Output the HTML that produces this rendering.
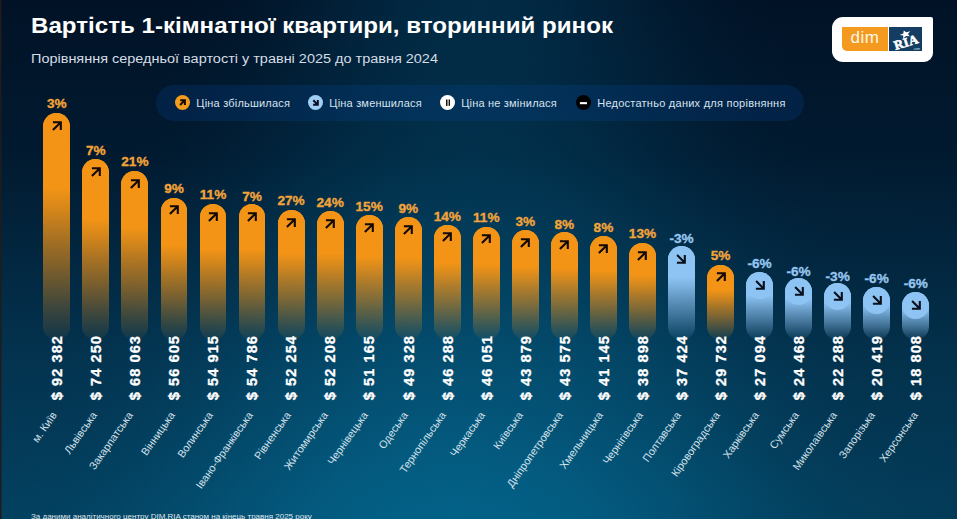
<!DOCTYPE html>
<html><head><meta charset="utf-8">
<style>
*{margin:0;padding:0;box-sizing:border-box}
html,body{width:957px;height:519px;overflow:hidden}
body{position:relative;font-family:"Liberation Sans",sans-serif;
background:linear-gradient(to bottom,#011226 0%,#011a30 30%,#02223a 42%,#03334f 69%,#033f5e 96%,#03405f 100%);}
.gl{position:absolute;left:0;width:957px}
.rdark{position:absolute;left:0;top:0;width:957px;height:519px;background:radial-gradient(ellipse 300px 420px at 100% 100%,rgba(0,0,0,0.075),rgba(0,0,0,0) 100%)}
.edge{position:absolute;left:0;top:0;width:1px;height:519px;background:#201c1c}
.edge2{position:absolute;left:1px;top:0;width:1px;height:519px;background:rgba(32,28,28,0.5)}
.t{position:absolute;white-space:nowrap;transform-origin:0 0}
h1.t{left:31px;top:13.5px;font-size:21.5px;font-weight:bold;color:#fff;line-height:25px;transform:scaleX(1.122)}
.sub{left:31px;top:52px;font-size:12.5px;color:#d5dde6;line-height:14px;transform:scaleX(1.157)}
.logo{position:absolute;left:832px;top:17px;width:101px;height:44.5px;background:#fff;border-radius:11px 2px 9px 11px}
.logo .o{position:absolute;left:10px;top:10px;width:45.8px;height:24.4px;background:#f39a1f;border-radius:0 0 0 5px;color:#fff8e6;font-size:17px;line-height:22px;text-align:center;letter-spacing:0.4px}
.logo .b{position:absolute;left:57px;top:10px;width:33px;height:24.4px;background:#143d63}
.logo .b svg{position:absolute;left:0;top:0}
.legend{position:absolute;left:156px;top:85px;width:648px;height:36px;border-radius:18px;background:rgba(10,75,160,0.22)}
.li{position:absolute;top:94.9px;width:15px;height:15px;border-radius:50%}
.li svg{display:block}
.lt{top:96.5px;font-size:11px;color:#d8e2ee;line-height:12px;letter-spacing:0.2px}
.bar{position:absolute;width:26.9px;border-radius:13.45px}
.cap{position:absolute;width:26.9px;height:26.9px;border-radius:50%;display:flex;align-items:center;justify-content:center}
.cap svg{display:block;margin-top:-1px}
.pct{position:absolute;width:60px;text-align:center;font-size:13.6px;font-weight:bold;line-height:14px;white-space:nowrap;-webkit-text-stroke:0.35px currentColor}
.price{position:absolute;font-size:14.6px;font-weight:bold;color:#fff;letter-spacing:1.05px;-webkit-text-stroke:0.3px #fff;white-space:nowrap;line-height:14px;transform-origin:0 0;transform:rotate(-90deg) translate(-100%,-50%)}
.city{position:absolute;font-size:10.75px;color:#d4e0ea;white-space:nowrap;line-height:10px;transform-origin:100% 0;transform:translate(-100%,0) rotate(-55deg)}
.foot{left:31px;top:512px;font-size:8px;color:#dfe6ee;line-height:9px}
</style></head><body>
<div class="gl" style="top:0px;height:8px;background:linear-gradient(to right,rgba(2,58,88,0.000) 179px,rgba(2,58,88,0.023) 216px,rgba(2,58,88,0.088) 254px,rgba(2,58,88,0.185) 292px,rgba(2,58,88,0.300) 329px,rgba(2,58,88,0.415) 367px,rgba(2,58,88,0.512) 404px,rgba(2,58,88,0.577) 442px,rgba(2,58,88,0.600) 480px,rgba(2,58,88,0.577) 517px,rgba(2,58,88,0.512) 555px,rgba(2,58,88,0.415) 593px,rgba(2,58,88,0.300) 630px,rgba(2,58,88,0.185) 668px,rgba(2,58,88,0.088) 706px,rgba(2,58,88,0.023) 743px,rgba(2,58,88,0.000) 781px)"></div>
<div class="gl" style="top:8px;height:8px;background:linear-gradient(to right,rgba(2,58,88,0.000) 176px,rgba(2,58,88,0.023) 214px,rgba(2,58,88,0.088) 252px,rgba(2,58,88,0.185) 290px,rgba(2,58,88,0.300) 328px,rgba(2,58,88,0.415) 366px,rgba(2,58,88,0.512) 403px,rgba(2,58,88,0.577) 441px,rgba(2,58,88,0.600) 479px,rgba(2,58,88,0.577) 517px,rgba(2,58,88,0.512) 555px,rgba(2,58,88,0.415) 593px,rgba(2,58,88,0.300) 631px,rgba(2,58,88,0.185) 669px,rgba(2,58,88,0.088) 707px,rgba(2,58,88,0.023) 745px,rgba(2,58,88,0.000) 783px)"></div>
<div class="gl" style="top:16px;height:8px;background:linear-gradient(to right,rgba(2,59,89,0.000) 173px,rgba(2,59,89,0.023) 211px,rgba(2,59,89,0.088) 249px,rgba(2,59,89,0.185) 288px,rgba(2,59,89,0.300) 326px,rgba(2,59,89,0.415) 364px,rgba(2,59,89,0.512) 402px,rgba(2,59,89,0.577) 441px,rgba(2,59,89,0.600) 479px,rgba(2,59,89,0.577) 517px,rgba(2,59,89,0.512) 556px,rgba(2,59,89,0.415) 594px,rgba(2,59,89,0.300) 632px,rgba(2,59,89,0.185) 670px,rgba(2,59,89,0.088) 709px,rgba(2,59,89,0.023) 747px,rgba(2,59,89,0.000) 785px)"></div>
<div class="gl" style="top:24px;height:8px;background:linear-gradient(to right,rgba(2,59,89,0.000) 170px,rgba(2,59,89,0.023) 209px,rgba(2,59,89,0.088) 247px,rgba(2,59,89,0.185) 286px,rgba(2,59,89,0.300) 324px,rgba(2,59,89,0.415) 363px,rgba(2,59,89,0.512) 401px,rgba(2,59,89,0.577) 440px,rgba(2,59,89,0.600) 479px,rgba(2,59,89,0.577) 517px,rgba(2,59,89,0.512) 556px,rgba(2,59,89,0.415) 594px,rgba(2,59,89,0.300) 633px,rgba(2,59,89,0.185) 672px,rgba(2,59,89,0.088) 710px,rgba(2,59,89,0.023) 749px,rgba(2,59,89,0.000) 787px)"></div>
<div class="gl" style="top:32px;height:8px;background:linear-gradient(to right,rgba(2,59,89,0.000) 167px,rgba(2,59,89,0.023) 206px,rgba(2,59,89,0.088) 245px,rgba(2,59,89,0.185) 284px,rgba(2,59,89,0.300) 323px,rgba(2,59,89,0.415) 362px,rgba(2,59,89,0.512) 400px,rgba(2,59,89,0.577) 439px,rgba(2,59,89,0.600) 478px,rgba(2,59,89,0.577) 517px,rgba(2,59,89,0.512) 556px,rgba(2,59,89,0.415) 595px,rgba(2,59,89,0.300) 634px,rgba(2,59,89,0.185) 673px,rgba(2,59,89,0.088) 712px,rgba(2,59,89,0.023) 750px,rgba(2,59,89,0.000) 789px)"></div>
<div class="gl" style="top:40px;height:8px;background:linear-gradient(to right,rgba(2,59,89,0.000) 164px,rgba(2,59,89,0.023) 204px,rgba(2,59,89,0.088) 243px,rgba(2,59,89,0.185) 282px,rgba(2,59,89,0.300) 321px,rgba(2,59,89,0.415) 360px,rgba(2,59,89,0.512) 399px,rgba(2,59,89,0.577) 439px,rgba(2,59,89,0.600) 478px,rgba(2,59,89,0.577) 517px,rgba(2,59,89,0.512) 556px,rgba(2,59,89,0.415) 595px,rgba(2,59,89,0.300) 635px,rgba(2,59,89,0.185) 674px,rgba(2,59,89,0.088) 713px,rgba(2,59,89,0.023) 752px,rgba(2,59,89,0.000) 791px)"></div>
<div class="gl" style="top:48px;height:8px;background:linear-gradient(to right,rgba(2,59,89,0.000) 161px,rgba(2,59,89,0.023) 201px,rgba(2,59,89,0.088) 240px,rgba(2,59,89,0.185) 280px,rgba(2,59,89,0.300) 319px,rgba(2,59,89,0.415) 359px,rgba(2,59,89,0.512) 398px,rgba(2,59,89,0.577) 438px,rgba(2,59,89,0.600) 477px,rgba(2,59,89,0.577) 517px,rgba(2,59,89,0.512) 557px,rgba(2,59,89,0.415) 596px,rgba(2,59,89,0.300) 636px,rgba(2,59,89,0.185) 675px,rgba(2,59,89,0.088) 715px,rgba(2,59,89,0.023) 754px,rgba(2,59,89,0.000) 794px)"></div>
<div class="gl" style="top:56px;height:8px;background:linear-gradient(to right,rgba(2,59,89,0.000) 159px,rgba(2,59,89,0.023) 198px,rgba(2,59,89,0.088) 238px,rgba(2,59,89,0.185) 278px,rgba(2,59,89,0.300) 318px,rgba(2,59,89,0.415) 358px,rgba(2,59,89,0.512) 397px,rgba(2,59,89,0.577) 437px,rgba(2,59,89,0.600) 477px,rgba(2,59,89,0.577) 517px,rgba(2,59,89,0.512) 557px,rgba(2,59,89,0.415) 597px,rgba(2,59,89,0.300) 636px,rgba(2,59,89,0.185) 676px,rgba(2,59,89,0.088) 716px,rgba(2,59,89,0.023) 756px,rgba(2,59,89,0.000) 796px)"></div>
<div class="gl" style="top:64px;height:8px;background:linear-gradient(to right,rgba(2,58,88,0.000) 156px,rgba(2,58,88,0.023) 196px,rgba(2,58,88,0.088) 236px,rgba(2,58,88,0.185) 276px,rgba(2,58,88,0.300) 316px,rgba(2,58,88,0.415) 356px,rgba(2,58,88,0.512) 396px,rgba(2,58,88,0.577) 437px,rgba(2,58,88,0.600) 477px,rgba(2,58,88,0.577) 517px,rgba(2,58,88,0.512) 557px,rgba(2,58,88,0.415) 597px,rgba(2,58,88,0.300) 637px,rgba(2,58,88,0.185) 677px,rgba(2,58,88,0.088) 717px,rgba(2,58,88,0.023) 758px,rgba(2,58,88,0.000) 798px)"></div>
<div class="gl" style="top:72px;height:8px;background:linear-gradient(to right,rgba(2,58,88,0.000) 153px,rgba(2,58,88,0.023) 193px,rgba(2,58,88,0.088) 234px,rgba(2,58,88,0.185) 274px,rgba(2,58,88,0.300) 315px,rgba(2,58,88,0.415) 355px,rgba(2,58,88,0.512) 395px,rgba(2,58,88,0.577) 436px,rgba(2,58,88,0.600) 476px,rgba(2,58,88,0.577) 517px,rgba(2,58,88,0.512) 557px,rgba(2,58,88,0.415) 598px,rgba(2,58,88,0.300) 638px,rgba(2,58,88,0.185) 678px,rgba(2,58,88,0.088) 719px,rgba(2,58,88,0.023) 759px,rgba(2,58,88,0.000) 800px)"></div>
<div class="gl" style="top:80px;height:8px;background:linear-gradient(to right,rgba(2,59,89,0.000) 150px,rgba(2,59,89,0.023) 191px,rgba(2,59,89,0.088) 232px,rgba(2,59,89,0.185) 272px,rgba(2,59,89,0.300) 313px,rgba(2,59,89,0.415) 354px,rgba(2,59,89,0.512) 394px,rgba(2,59,89,0.577) 435px,rgba(2,59,89,0.600) 476px,rgba(2,59,89,0.577) 517px,rgba(2,59,89,0.512) 557px,rgba(2,59,89,0.415) 598px,rgba(2,59,89,0.300) 639px,rgba(2,59,89,0.185) 680px,rgba(2,59,89,0.088) 720px,rgba(2,59,89,0.023) 761px,rgba(2,59,89,0.000) 802px)"></div>
<div class="gl" style="top:88px;height:8px;background:linear-gradient(to right,rgba(2,59,89,0.000) 147px,rgba(2,59,89,0.023) 188px,rgba(2,59,89,0.088) 229px,rgba(2,59,89,0.185) 270px,rgba(2,59,89,0.300) 311px,rgba(2,59,89,0.415) 352px,rgba(2,59,89,0.512) 393px,rgba(2,59,89,0.577) 435px,rgba(2,59,89,0.600) 476px,rgba(2,59,89,0.577) 517px,rgba(2,59,89,0.512) 558px,rgba(2,59,89,0.415) 599px,rgba(2,59,89,0.300) 640px,rgba(2,59,89,0.185) 681px,rgba(2,59,89,0.088) 722px,rgba(2,59,89,0.023) 763px,rgba(2,59,89,0.000) 804px)"></div>
<div class="gl" style="top:96px;height:8px;background:linear-gradient(to right,rgba(2,60,90,0.000) 144px,rgba(2,60,90,0.023) 186px,rgba(2,60,90,0.088) 227px,rgba(2,60,90,0.185) 268px,rgba(2,60,90,0.300) 310px,rgba(2,60,90,0.415) 351px,rgba(2,60,90,0.512) 392px,rgba(2,60,90,0.577) 434px,rgba(2,60,90,0.600) 475px,rgba(2,60,90,0.577) 517px,rgba(2,60,90,0.512) 558px,rgba(2,60,90,0.415) 599px,rgba(2,60,90,0.300) 641px,rgba(2,60,90,0.185) 682px,rgba(2,60,90,0.088) 723px,rgba(2,60,90,0.023) 765px,rgba(2,60,90,0.000) 806px)"></div>
<div class="gl" style="top:104px;height:8px;background:linear-gradient(to right,rgba(2,60,91,0.000) 142px,rgba(2,60,91,0.023) 183px,rgba(2,60,91,0.088) 225px,rgba(2,60,91,0.185) 266px,rgba(2,60,91,0.300) 308px,rgba(2,60,91,0.415) 350px,rgba(2,60,91,0.512) 391px,rgba(2,60,91,0.577) 433px,rgba(2,60,91,0.600) 475px,rgba(2,60,91,0.577) 516px,rgba(2,60,91,0.512) 558px,rgba(2,60,91,0.415) 600px,rgba(2,60,91,0.300) 641px,rgba(2,60,91,0.185) 683px,rgba(2,60,91,0.088) 725px,rgba(2,60,91,0.023) 766px,rgba(2,60,91,0.000) 808px)"></div>
<div class="gl" style="top:112px;height:8px;background:linear-gradient(to right,rgba(2,61,91,0.000) 139px,rgba(2,61,91,0.023) 181px,rgba(2,61,91,0.088) 223px,rgba(2,61,91,0.185) 265px,rgba(2,61,91,0.300) 307px,rgba(2,61,91,0.415) 349px,rgba(2,61,91,0.512) 390px,rgba(2,61,91,0.577) 432px,rgba(2,61,91,0.600) 474px,rgba(2,61,91,0.577) 516px,rgba(2,61,91,0.512) 558px,rgba(2,61,91,0.415) 600px,rgba(2,61,91,0.300) 642px,rgba(2,61,91,0.185) 684px,rgba(2,61,91,0.088) 726px,rgba(2,61,91,0.023) 768px,rgba(2,61,91,0.000) 810px)"></div>
<div class="gl" style="top:120px;height:8px;background:linear-gradient(to right,rgba(2,62,92,0.000) 136px,rgba(2,62,92,0.023) 178px,rgba(2,62,92,0.088) 220px,rgba(2,62,92,0.185) 263px,rgba(2,62,92,0.300) 305px,rgba(2,62,92,0.415) 347px,rgba(2,62,92,0.512) 389px,rgba(2,62,92,0.577) 432px,rgba(2,62,92,0.600) 474px,rgba(2,62,92,0.577) 516px,rgba(2,62,92,0.512) 559px,rgba(2,62,92,0.415) 601px,rgba(2,62,92,0.300) 643px,rgba(2,62,92,0.185) 685px,rgba(2,62,92,0.088) 728px,rgba(2,62,92,0.023) 770px,rgba(2,62,92,0.000) 812px)"></div>
<div class="gl" style="top:128px;height:8px;background:linear-gradient(to right,rgba(2,62,93,0.000) 133px,rgba(2,62,93,0.023) 176px,rgba(2,62,93,0.088) 218px,rgba(2,62,93,0.185) 261px,rgba(2,62,93,0.300) 303px,rgba(2,62,93,0.415) 346px,rgba(2,62,93,0.512) 388px,rgba(2,62,93,0.577) 431px,rgba(2,62,93,0.600) 474px,rgba(2,62,93,0.577) 516px,rgba(2,62,93,0.512) 559px,rgba(2,62,93,0.415) 601px,rgba(2,62,93,0.300) 644px,rgba(2,62,93,0.185) 687px,rgba(2,62,93,0.088) 729px,rgba(2,62,93,0.023) 772px,rgba(2,62,93,0.000) 814px)"></div>
<div class="gl" style="top:136px;height:8px;background:linear-gradient(to right,rgba(2,63,94,0.000) 130px,rgba(2,63,94,0.023) 173px,rgba(2,63,94,0.088) 216px,rgba(2,63,94,0.185) 259px,rgba(2,63,94,0.300) 302px,rgba(2,63,94,0.415) 345px,rgba(2,63,94,0.512) 387px,rgba(2,63,94,0.577) 430px,rgba(2,63,94,0.600) 473px,rgba(2,63,94,0.577) 516px,rgba(2,63,94,0.512) 559px,rgba(2,63,94,0.415) 602px,rgba(2,63,94,0.300) 645px,rgba(2,63,94,0.185) 688px,rgba(2,63,94,0.088) 731px,rgba(2,63,94,0.023) 774px,rgba(2,63,94,0.000) 816px)"></div>
<div class="gl" style="top:144px;height:8px;background:linear-gradient(to right,rgba(2,63,94,0.000) 127px,rgba(2,63,94,0.023) 170px,rgba(2,63,94,0.088) 214px,rgba(2,63,94,0.185) 257px,rgba(2,63,94,0.300) 300px,rgba(2,63,94,0.415) 343px,rgba(2,63,94,0.512) 386px,rgba(2,63,94,0.577) 430px,rgba(2,63,94,0.600) 473px,rgba(2,63,94,0.577) 516px,rgba(2,63,94,0.512) 559px,rgba(2,63,94,0.415) 602px,rgba(2,63,94,0.300) 646px,rgba(2,63,94,0.185) 689px,rgba(2,63,94,0.088) 732px,rgba(2,63,94,0.023) 775px,rgba(2,63,94,0.000) 818px)"></div>
<div class="gl" style="top:152px;height:8px;background:linear-gradient(to right,rgba(2,64,95,0.000) 124px,rgba(2,64,95,0.023) 168px,rgba(2,64,95,0.088) 211px,rgba(2,64,95,0.185) 255px,rgba(2,64,95,0.300) 298px,rgba(2,64,95,0.415) 342px,rgba(2,64,95,0.512) 385px,rgba(2,64,95,0.577) 429px,rgba(2,64,95,0.600) 472px,rgba(2,64,95,0.577) 516px,rgba(2,64,95,0.512) 560px,rgba(2,64,95,0.415) 603px,rgba(2,64,95,0.300) 647px,rgba(2,64,95,0.185) 690px,rgba(2,64,95,0.088) 734px,rgba(2,64,95,0.023) 777px,rgba(2,64,95,0.000) 821px)"></div>
<div class="gl" style="top:160px;height:8px;background:linear-gradient(to right,rgba(2,65,96,0.000) 122px,rgba(2,65,96,0.023) 165px,rgba(2,65,96,0.088) 209px,rgba(2,65,96,0.185) 253px,rgba(2,65,96,0.300) 297px,rgba(2,65,96,0.415) 341px,rgba(2,65,96,0.512) 384px,rgba(2,65,96,0.577) 428px,rgba(2,65,96,0.600) 472px,rgba(2,65,96,0.577) 516px,rgba(2,65,96,0.512) 560px,rgba(2,65,96,0.415) 604px,rgba(2,65,96,0.300) 647px,rgba(2,65,96,0.185) 691px,rgba(2,65,96,0.088) 735px,rgba(2,65,96,0.023) 779px,rgba(2,65,96,0.000) 823px)"></div>
<div class="gl" style="top:168px;height:8px;background:linear-gradient(to right,rgba(2,66,98,0.000) 119px,rgba(2,66,98,0.023) 163px,rgba(2,66,98,0.088) 207px,rgba(2,66,98,0.185) 251px,rgba(2,66,98,0.300) 295px,rgba(2,66,98,0.415) 339px,rgba(2,66,98,0.512) 383px,rgba(2,66,98,0.577) 428px,rgba(2,66,98,0.600) 472px,rgba(2,66,98,0.577) 516px,rgba(2,66,98,0.512) 560px,rgba(2,66,98,0.415) 604px,rgba(2,66,98,0.300) 648px,rgba(2,66,98,0.185) 692px,rgba(2,66,98,0.088) 736px,rgba(2,66,98,0.023) 781px,rgba(2,66,98,0.000) 825px)"></div>
<div class="gl" style="top:176px;height:8px;background:linear-gradient(to right,rgba(2,68,99,0.000) 116px,rgba(2,68,99,0.023) 160px,rgba(2,68,99,0.088) 205px,rgba(2,68,99,0.185) 249px,rgba(2,68,99,0.300) 294px,rgba(2,68,99,0.415) 338px,rgba(2,68,99,0.512) 382px,rgba(2,68,99,0.577) 427px,rgba(2,68,99,0.600) 471px,rgba(2,68,99,0.577) 516px,rgba(2,68,99,0.512) 560px,rgba(2,68,99,0.415) 605px,rgba(2,68,99,0.300) 649px,rgba(2,68,99,0.185) 694px,rgba(2,68,99,0.088) 738px,rgba(2,68,99,0.023) 782px,rgba(2,68,99,0.000) 827px)"></div>
<div class="gl" style="top:184px;height:8px;background:linear-gradient(to right,rgba(2,69,101,0.000) 113px,rgba(2,69,101,0.023) 158px,rgba(2,69,101,0.088) 202px,rgba(2,69,101,0.185) 247px,rgba(2,69,101,0.300) 292px,rgba(2,69,101,0.415) 337px,rgba(2,69,101,0.512) 381px,rgba(2,69,101,0.577) 426px,rgba(2,69,101,0.600) 471px,rgba(2,69,101,0.577) 516px,rgba(2,69,101,0.512) 560px,rgba(2,69,101,0.415) 605px,rgba(2,69,101,0.300) 650px,rgba(2,69,101,0.185) 695px,rgba(2,69,101,0.088) 739px,rgba(2,69,101,0.023) 784px,rgba(2,69,101,0.000) 829px)"></div>
<div class="gl" style="top:192px;height:8px;background:linear-gradient(to right,rgba(2,70,102,0.000) 110px,rgba(2,70,102,0.023) 155px,rgba(2,70,102,0.088) 200px,rgba(2,70,102,0.185) 245px,rgba(2,70,102,0.300) 290px,rgba(2,70,102,0.415) 335px,rgba(2,70,102,0.512) 380px,rgba(2,70,102,0.577) 426px,rgba(2,70,102,0.600) 471px,rgba(2,70,102,0.577) 516px,rgba(2,70,102,0.512) 561px,rgba(2,70,102,0.415) 606px,rgba(2,70,102,0.300) 651px,rgba(2,70,102,0.185) 696px,rgba(2,70,102,0.088) 741px,rgba(2,70,102,0.023) 786px,rgba(2,70,102,0.000) 831px)"></div>
<div class="gl" style="top:200px;height:8px;background:linear-gradient(to right,rgba(3,71,104,0.000) 107px,rgba(3,71,104,0.023) 153px,rgba(3,71,104,0.088) 198px,rgba(3,71,104,0.185) 243px,rgba(3,71,104,0.300) 289px,rgba(3,71,104,0.415) 334px,rgba(3,71,104,0.512) 379px,rgba(3,71,104,0.577) 425px,rgba(3,71,104,0.600) 470px,rgba(3,71,104,0.577) 516px,rgba(3,71,104,0.512) 561px,rgba(3,71,104,0.415) 606px,rgba(3,71,104,0.300) 652px,rgba(3,71,104,0.185) 697px,rgba(3,71,104,0.088) 742px,rgba(3,71,104,0.023) 788px,rgba(3,71,104,0.000) 833px)"></div>
<div class="gl" style="top:208px;height:8px;background:linear-gradient(to right,rgba(3,72,105,0.000) 104px,rgba(3,72,105,0.023) 150px,rgba(3,72,105,0.088) 196px,rgba(3,72,105,0.185) 241px,rgba(3,72,105,0.300) 287px,rgba(3,72,105,0.415) 333px,rgba(3,72,105,0.512) 378px,rgba(3,72,105,0.577) 424px,rgba(3,72,105,0.600) 470px,rgba(3,72,105,0.577) 515px,rgba(3,72,105,0.512) 561px,rgba(3,72,105,0.415) 607px,rgba(3,72,105,0.300) 652px,rgba(3,72,105,0.185) 698px,rgba(3,72,105,0.088) 744px,rgba(3,72,105,0.023) 789px,rgba(3,72,105,0.000) 835px)"></div>
<div class="gl" style="top:216px;height:8px;background:linear-gradient(to right,rgba(3,74,107,0.000) 102px,rgba(3,74,107,0.023) 148px,rgba(3,74,107,0.088) 194px,rgba(3,74,107,0.185) 240px,rgba(3,74,107,0.300) 285px,rgba(3,74,107,0.415) 331px,rgba(3,74,107,0.512) 377px,rgba(3,74,107,0.577) 423px,rgba(3,74,107,0.600) 469px,rgba(3,74,107,0.577) 515px,rgba(3,74,107,0.512) 561px,rgba(3,74,107,0.415) 607px,rgba(3,74,107,0.300) 653px,rgba(3,74,107,0.185) 699px,rgba(3,74,107,0.088) 745px,rgba(3,74,107,0.023) 791px,rgba(3,74,107,0.000) 837px)"></div>
<div class="gl" style="top:224px;height:8px;background:linear-gradient(to right,rgba(3,75,108,0.000) 99px,rgba(3,75,108,0.023) 145px,rgba(3,75,108,0.088) 191px,rgba(3,75,108,0.185) 238px,rgba(3,75,108,0.300) 284px,rgba(3,75,108,0.415) 330px,rgba(3,75,108,0.512) 376px,rgba(3,75,108,0.577) 423px,rgba(3,75,108,0.600) 469px,rgba(3,75,108,0.577) 515px,rgba(3,75,108,0.512) 562px,rgba(3,75,108,0.415) 608px,rgba(3,75,108,0.300) 654px,rgba(3,75,108,0.185) 700px,rgba(3,75,108,0.088) 747px,rgba(3,75,108,0.023) 793px,rgba(3,75,108,0.000) 839px)"></div>
<div class="gl" style="top:232px;height:8px;background:linear-gradient(to right,rgba(3,76,109,0.000) 96px,rgba(3,76,109,0.023) 142px,rgba(3,76,109,0.088) 189px,rgba(3,76,109,0.185) 236px,rgba(3,76,109,0.300) 282px,rgba(3,76,109,0.415) 329px,rgba(3,76,109,0.512) 375px,rgba(3,76,109,0.577) 422px,rgba(3,76,109,0.600) 469px,rgba(3,76,109,0.577) 515px,rgba(3,76,109,0.512) 562px,rgba(3,76,109,0.415) 608px,rgba(3,76,109,0.300) 655px,rgba(3,76,109,0.185) 702px,rgba(3,76,109,0.088) 748px,rgba(3,76,109,0.023) 795px,rgba(3,76,109,0.000) 841px)"></div>
<div class="gl" style="top:240px;height:8px;background:linear-gradient(to right,rgba(3,77,111,0.000) 93px,rgba(3,77,111,0.023) 140px,rgba(3,77,111,0.088) 187px,rgba(3,77,111,0.185) 234px,rgba(3,77,111,0.300) 281px,rgba(3,77,111,0.415) 328px,rgba(3,77,111,0.512) 374px,rgba(3,77,111,0.577) 421px,rgba(3,77,111,0.600) 468px,rgba(3,77,111,0.577) 515px,rgba(3,77,111,0.512) 562px,rgba(3,77,111,0.415) 609px,rgba(3,77,111,0.300) 656px,rgba(3,77,111,0.185) 703px,rgba(3,77,111,0.088) 750px,rgba(3,77,111,0.023) 797px,rgba(3,77,111,0.000) 843px)"></div>
<div class="gl" style="top:248px;height:8px;background:linear-gradient(to right,rgba(3,78,112,0.000) 90px,rgba(3,78,112,0.023) 137px,rgba(3,78,112,0.088) 185px,rgba(3,78,112,0.185) 232px,rgba(3,78,112,0.300) 279px,rgba(3,78,112,0.415) 326px,rgba(3,78,112,0.512) 373px,rgba(3,78,112,0.577) 421px,rgba(3,78,112,0.600) 468px,rgba(3,78,112,0.577) 515px,rgba(3,78,112,0.512) 562px,rgba(3,78,112,0.415) 609px,rgba(3,78,112,0.300) 657px,rgba(3,78,112,0.185) 704px,rgba(3,78,112,0.088) 751px,rgba(3,78,112,0.023) 798px,rgba(3,78,112,0.000) 846px)"></div>
<div class="gl" style="top:256px;height:8px;background:linear-gradient(to right,rgba(3,79,114,0.000) 87px,rgba(3,79,114,0.023) 135px,rgba(3,79,114,0.088) 182px,rgba(3,79,114,0.185) 230px,rgba(3,79,114,0.300) 277px,rgba(3,79,114,0.415) 325px,rgba(3,79,114,0.512) 372px,rgba(3,79,114,0.577) 420px,rgba(3,79,114,0.600) 467px,rgba(3,79,114,0.577) 515px,rgba(3,79,114,0.512) 563px,rgba(3,79,114,0.415) 610px,rgba(3,79,114,0.300) 658px,rgba(3,79,114,0.185) 705px,rgba(3,79,114,0.088) 753px,rgba(3,79,114,0.023) 800px,rgba(3,79,114,0.000) 848px)"></div>
<div class="gl" style="top:264px;height:8px;background:linear-gradient(to right,rgba(3,80,115,0.000) 84px,rgba(3,80,115,0.023) 132px,rgba(3,80,115,0.088) 180px,rgba(3,80,115,0.185) 228px,rgba(3,80,115,0.300) 276px,rgba(3,80,115,0.415) 324px,rgba(3,80,115,0.512) 371px,rgba(3,80,115,0.577) 419px,rgba(3,80,115,0.600) 467px,rgba(3,80,115,0.577) 515px,rgba(3,80,115,0.512) 563px,rgba(3,80,115,0.415) 611px,rgba(3,80,115,0.300) 658px,rgba(3,80,115,0.185) 706px,rgba(3,80,115,0.088) 754px,rgba(3,80,115,0.023) 802px,rgba(3,80,115,0.000) 850px)"></div>
<div class="gl" style="top:272px;height:8px;background:linear-gradient(to right,rgba(3,81,116,0.000) 82px,rgba(3,81,116,0.023) 130px,rgba(3,81,116,0.088) 178px,rgba(3,81,116,0.185) 226px,rgba(3,81,116,0.300) 274px,rgba(3,81,116,0.415) 322px,rgba(3,81,116,0.512) 370px,rgba(3,81,116,0.577) 419px,rgba(3,81,116,0.600) 467px,rgba(3,81,116,0.577) 515px,rgba(3,81,116,0.512) 563px,rgba(3,81,116,0.415) 611px,rgba(3,81,116,0.300) 659px,rgba(3,81,116,0.185) 707px,rgba(3,81,116,0.088) 756px,rgba(3,81,116,0.023) 804px,rgba(3,81,116,0.000) 852px)"></div>
<div class="gl" style="top:280px;height:8px;background:linear-gradient(to right,rgba(3,83,118,0.000) 79px,rgba(3,83,118,0.023) 127px,rgba(3,83,118,0.088) 176px,rgba(3,83,118,0.185) 224px,rgba(3,83,118,0.300) 273px,rgba(3,83,118,0.415) 321px,rgba(3,83,118,0.512) 369px,rgba(3,83,118,0.577) 418px,rgba(3,83,118,0.600) 466px,rgba(3,83,118,0.577) 515px,rgba(3,83,118,0.512) 563px,rgba(3,83,118,0.415) 612px,rgba(3,83,118,0.300) 660px,rgba(3,83,118,0.185) 709px,rgba(3,83,118,0.088) 757px,rgba(3,83,118,0.023) 805px,rgba(3,83,118,0.000) 854px)"></div>
<div class="gl" style="top:288px;height:8px;background:linear-gradient(to right,rgba(3,84,119,0.000) 76px,rgba(3,84,119,0.023) 125px,rgba(3,84,119,0.088) 173px,rgba(3,84,119,0.185) 222px,rgba(3,84,119,0.300) 271px,rgba(3,84,119,0.415) 320px,rgba(3,84,119,0.512) 368px,rgba(3,84,119,0.577) 417px,rgba(3,84,119,0.600) 466px,rgba(3,84,119,0.577) 515px,rgba(3,84,119,0.512) 563px,rgba(3,84,119,0.415) 612px,rgba(3,84,119,0.300) 661px,rgba(3,84,119,0.185) 710px,rgba(3,84,119,0.088) 758px,rgba(3,84,119,0.023) 807px,rgba(3,84,119,0.000) 856px)"></div>
<div class="gl" style="top:296px;height:8px;background:linear-gradient(to right,rgba(3,85,120,0.000) 73px,rgba(3,85,120,0.023) 122px,rgba(3,85,120,0.088) 171px,rgba(3,85,120,0.185) 220px,rgba(3,85,120,0.300) 269px,rgba(3,85,120,0.415) 318px,rgba(3,85,120,0.512) 367px,rgba(3,85,120,0.577) 416px,rgba(3,85,120,0.600) 466px,rgba(3,85,120,0.577) 515px,rgba(3,85,120,0.512) 564px,rgba(3,85,120,0.415) 613px,rgba(3,85,120,0.300) 662px,rgba(3,85,120,0.185) 711px,rgba(3,85,120,0.088) 760px,rgba(3,85,120,0.023) 809px,rgba(3,85,120,0.000) 858px)"></div>
<div class="gl" style="top:304px;height:8px;background:linear-gradient(to right,rgba(3,86,122,0.000) 70px,rgba(3,86,122,0.023) 120px,rgba(3,86,122,0.088) 169px,rgba(3,86,122,0.185) 218px,rgba(3,86,122,0.300) 268px,rgba(3,86,122,0.415) 317px,rgba(3,86,122,0.512) 366px,rgba(3,86,122,0.577) 416px,rgba(3,86,122,0.600) 465px,rgba(3,86,122,0.577) 515px,rgba(3,86,122,0.512) 564px,rgba(3,86,122,0.415) 613px,rgba(3,86,122,0.300) 663px,rgba(3,86,122,0.185) 712px,rgba(3,86,122,0.088) 761px,rgba(3,86,122,0.023) 811px,rgba(3,86,122,0.000) 860px)"></div>
<div class="gl" style="top:312px;height:8px;background:linear-gradient(to right,rgba(4,88,124,0.000) 67px,rgba(4,88,124,0.023) 117px,rgba(4,88,124,0.088) 167px,rgba(4,88,124,0.185) 216px,rgba(4,88,124,0.300) 266px,rgba(4,88,124,0.415) 316px,rgba(4,88,124,0.512) 365px,rgba(4,88,124,0.577) 415px,rgba(4,88,124,0.600) 465px,rgba(4,88,124,0.577) 514px,rgba(4,88,124,0.512) 564px,rgba(4,88,124,0.415) 614px,rgba(4,88,124,0.300) 663px,rgba(4,88,124,0.185) 713px,rgba(4,88,124,0.088) 763px,rgba(4,88,124,0.023) 813px,rgba(4,88,124,0.000) 862px)"></div>
<div class="gl" style="top:320px;height:8px;background:linear-gradient(to right,rgba(4,89,126,0.000) 65px,rgba(4,89,126,0.023) 114px,rgba(4,89,126,0.088) 164px,rgba(4,89,126,0.185) 214px,rgba(4,89,126,0.300) 264px,rgba(4,89,126,0.415) 314px,rgba(4,89,126,0.512) 364px,rgba(4,89,126,0.577) 414px,rgba(4,89,126,0.600) 464px,rgba(4,89,126,0.577) 514px,rgba(4,89,126,0.512) 564px,rgba(4,89,126,0.415) 614px,rgba(4,89,126,0.300) 664px,rgba(4,89,126,0.185) 714px,rgba(4,89,126,0.088) 764px,rgba(4,89,126,0.023) 814px,rgba(4,89,126,0.000) 864px)"></div>
<div class="gl" style="top:328px;height:8px;background:linear-gradient(to right,rgba(4,91,128,0.000) 62px,rgba(4,91,128,0.023) 112px,rgba(4,91,128,0.088) 162px,rgba(4,91,128,0.185) 213px,rgba(4,91,128,0.300) 263px,rgba(4,91,128,0.415) 313px,rgba(4,91,128,0.512) 363px,rgba(4,91,128,0.577) 414px,rgba(4,91,128,0.600) 464px,rgba(4,91,128,0.577) 514px,rgba(4,91,128,0.512) 565px,rgba(4,91,128,0.415) 615px,rgba(4,91,128,0.300) 665px,rgba(4,91,128,0.185) 715px,rgba(4,91,128,0.088) 766px,rgba(4,91,128,0.023) 816px,rgba(4,91,128,0.000) 866px)"></div>
<div class="gl" style="top:336px;height:8px;background:linear-gradient(to right,rgba(4,92,129,0.000) 59px,rgba(4,92,129,0.023) 109px,rgba(4,92,129,0.088) 160px,rgba(4,92,129,0.185) 211px,rgba(4,92,129,0.300) 261px,rgba(4,92,129,0.415) 312px,rgba(4,92,129,0.512) 362px,rgba(4,92,129,0.577) 413px,rgba(4,92,129,0.600) 464px,rgba(4,92,129,0.577) 514px,rgba(4,92,129,0.512) 565px,rgba(4,92,129,0.415) 615px,rgba(4,92,129,0.300) 666px,rgba(4,92,129,0.185) 717px,rgba(4,92,129,0.088) 767px,rgba(4,92,129,0.023) 818px,rgba(4,92,129,0.000) 868px)"></div>
<div class="gl" style="top:344px;height:8px;background:linear-gradient(to right,rgba(4,94,131,0.000) 56px,rgba(4,94,131,0.023) 107px,rgba(4,94,131,0.088) 158px,rgba(4,94,131,0.185) 209px,rgba(4,94,131,0.300) 260px,rgba(4,94,131,0.415) 311px,rgba(4,94,131,0.512) 361px,rgba(4,94,131,0.577) 412px,rgba(4,94,131,0.600) 463px,rgba(4,94,131,0.577) 514px,rgba(4,94,131,0.512) 565px,rgba(4,94,131,0.415) 616px,rgba(4,94,131,0.300) 667px,rgba(4,94,131,0.185) 718px,rgba(4,94,131,0.088) 769px,rgba(4,94,131,0.023) 820px,rgba(4,94,131,0.000) 871px)"></div>
<div class="gl" style="top:352px;height:8px;background:linear-gradient(to right,rgba(4,95,133,0.000) 53px,rgba(4,95,133,0.023) 104px,rgba(4,95,133,0.088) 156px,rgba(4,95,133,0.185) 207px,rgba(4,95,133,0.300) 258px,rgba(4,95,133,0.415) 309px,rgba(4,95,133,0.512) 360px,rgba(4,95,133,0.577) 412px,rgba(4,95,133,0.600) 463px,rgba(4,95,133,0.577) 514px,rgba(4,95,133,0.512) 565px,rgba(4,95,133,0.415) 617px,rgba(4,95,133,0.300) 668px,rgba(4,95,133,0.185) 719px,rgba(4,95,133,0.088) 770px,rgba(4,95,133,0.023) 821px,rgba(4,95,133,0.000) 873px)"></div>
<div class="gl" style="top:360px;height:8px;background:linear-gradient(to right,rgba(4,96,134,0.000) 50px,rgba(4,96,134,0.023) 102px,rgba(4,96,134,0.088) 153px,rgba(4,96,134,0.185) 205px,rgba(4,96,134,0.300) 256px,rgba(4,96,134,0.415) 308px,rgba(4,96,134,0.512) 359px,rgba(4,96,134,0.577) 411px,rgba(4,96,134,0.600) 462px,rgba(4,96,134,0.577) 514px,rgba(4,96,134,0.512) 566px,rgba(4,96,134,0.415) 617px,rgba(4,96,134,0.300) 669px,rgba(4,96,134,0.185) 720px,rgba(4,96,134,0.088) 772px,rgba(4,96,134,0.023) 823px,rgba(4,96,134,0.000) 875px)"></div>
<div class="gl" style="top:368px;height:8px;background:linear-gradient(to right,rgba(4,98,136,0.000) 47px,rgba(4,98,136,0.023) 99px,rgba(4,98,136,0.088) 151px,rgba(4,98,136,0.185) 203px,rgba(4,98,136,0.300) 255px,rgba(4,98,136,0.415) 307px,rgba(4,98,136,0.512) 358px,rgba(4,98,136,0.577) 410px,rgba(4,98,136,0.600) 462px,rgba(4,98,136,0.577) 514px,rgba(4,98,136,0.512) 566px,rgba(4,98,136,0.415) 618px,rgba(4,98,136,0.300) 669px,rgba(4,98,136,0.185) 721px,rgba(4,98,136,0.088) 773px,rgba(4,98,136,0.023) 825px,rgba(4,98,136,0.000) 877px)"></div>
<div class="gl" style="top:376px;height:8px;background:linear-gradient(to right,rgba(4,99,137,0.000) 45px,rgba(4,99,137,0.023) 97px,rgba(4,99,137,0.088) 149px,rgba(4,99,137,0.185) 201px,rgba(4,99,137,0.300) 253px,rgba(4,99,137,0.415) 305px,rgba(4,99,137,0.512) 357px,rgba(4,99,137,0.577) 410px,rgba(4,99,137,0.600) 462px,rgba(4,99,137,0.577) 514px,rgba(4,99,137,0.512) 566px,rgba(4,99,137,0.415) 618px,rgba(4,99,137,0.300) 670px,rgba(4,99,137,0.185) 722px,rgba(4,99,137,0.088) 775px,rgba(4,99,137,0.023) 827px,rgba(4,99,137,0.000) 879px)"></div>
<div class="gl" style="top:384px;height:8px;background:linear-gradient(to right,rgba(4,100,139,0.000) 42px,rgba(4,100,139,0.023) 94px,rgba(4,100,139,0.088) 147px,rgba(4,100,139,0.185) 199px,rgba(4,100,139,0.300) 252px,rgba(4,100,139,0.415) 304px,rgba(4,100,139,0.512) 356px,rgba(4,100,139,0.577) 409px,rgba(4,100,139,0.600) 461px,rgba(4,100,139,0.577) 514px,rgba(4,100,139,0.512) 566px,rgba(4,100,139,0.415) 619px,rgba(4,100,139,0.300) 671px,rgba(4,100,139,0.185) 724px,rgba(4,100,139,0.088) 776px,rgba(4,100,139,0.023) 828px,rgba(4,100,139,0.000) 881px)"></div>
<div class="gl" style="top:392px;height:8px;background:linear-gradient(to right,rgba(4,101,141,0.000) 39px,rgba(4,101,141,0.023) 92px,rgba(4,101,141,0.088) 144px,rgba(4,101,141,0.185) 197px,rgba(4,101,141,0.300) 250px,rgba(4,101,141,0.415) 303px,rgba(4,101,141,0.512) 355px,rgba(4,101,141,0.577) 408px,rgba(4,101,141,0.600) 461px,rgba(4,101,141,0.577) 514px,rgba(4,101,141,0.512) 566px,rgba(4,101,141,0.415) 619px,rgba(4,101,141,0.300) 672px,rgba(4,101,141,0.185) 725px,rgba(4,101,141,0.088) 777px,rgba(4,101,141,0.023) 830px,rgba(4,101,141,0.000) 883px)"></div>
<div class="gl" style="top:400px;height:8px;background:linear-gradient(to right,rgba(4,103,142,0.000) 36px,rgba(4,103,142,0.023) 89px,rgba(4,103,142,0.088) 142px,rgba(4,103,142,0.185) 195px,rgba(4,103,142,0.300) 248px,rgba(4,103,142,0.415) 301px,rgba(4,103,142,0.512) 354px,rgba(4,103,142,0.577) 407px,rgba(4,103,142,0.600) 461px,rgba(4,103,142,0.577) 514px,rgba(4,103,142,0.512) 567px,rgba(4,103,142,0.415) 620px,rgba(4,103,142,0.300) 673px,rgba(4,103,142,0.185) 726px,rgba(4,103,142,0.088) 779px,rgba(4,103,142,0.023) 832px,rgba(4,103,142,0.000) 885px)"></div>
<div class="gl" style="top:408px;height:8px;background:linear-gradient(to right,rgba(4,104,144,0.000) 33px,rgba(4,104,144,0.023) 87px,rgba(4,104,144,0.088) 140px,rgba(4,104,144,0.185) 193px,rgba(4,104,144,0.300) 247px,rgba(4,104,144,0.415) 300px,rgba(4,104,144,0.512) 353px,rgba(4,104,144,0.577) 407px,rgba(4,104,144,0.600) 460px,rgba(4,104,144,0.577) 514px,rgba(4,104,144,0.512) 567px,rgba(4,104,144,0.415) 620px,rgba(4,104,144,0.300) 674px,rgba(4,104,144,0.185) 727px,rgba(4,104,144,0.088) 780px,rgba(4,104,144,0.023) 834px,rgba(4,104,144,0.000) 887px)"></div>
<div class="gl" style="top:416px;height:8px;background:linear-gradient(to right,rgba(4,106,146,0.000) 30px,rgba(4,106,146,0.023) 84px,rgba(4,106,146,0.088) 138px,rgba(4,106,146,0.185) 191px,rgba(4,106,146,0.300) 245px,rgba(4,106,146,0.415) 299px,rgba(4,106,146,0.512) 352px,rgba(4,106,146,0.577) 406px,rgba(4,106,146,0.600) 460px,rgba(4,106,146,0.577) 513px,rgba(4,106,146,0.512) 567px,rgba(4,106,146,0.415) 621px,rgba(4,106,146,0.300) 675px,rgba(4,106,146,0.185) 728px,rgba(4,106,146,0.088) 782px,rgba(4,106,146,0.023) 836px,rgba(4,106,146,0.000) 889px)"></div>
<div class="gl" style="top:424px;height:8px;background:linear-gradient(to right,rgba(4,107,147,0.000) 27px,rgba(4,107,147,0.023) 81px,rgba(4,107,147,0.088) 135px,rgba(4,107,147,0.185) 189px,rgba(4,107,147,0.300) 243px,rgba(4,107,147,0.415) 297px,rgba(4,107,147,0.512) 351px,rgba(4,107,147,0.577) 405px,rgba(4,107,147,0.600) 459px,rgba(4,107,147,0.577) 513px,rgba(4,107,147,0.512) 567px,rgba(4,107,147,0.415) 621px,rgba(4,107,147,0.300) 675px,rgba(4,107,147,0.185) 729px,rgba(4,107,147,0.088) 783px,rgba(4,107,147,0.023) 837px,rgba(4,107,147,0.000) 891px)"></div>
<div class="gl" style="top:432px;height:8px;background:linear-gradient(to right,rgba(4,108,149,0.000) 25px,rgba(4,108,149,0.023) 79px,rgba(4,108,149,0.088) 133px,rgba(4,108,149,0.185) 187px,rgba(4,108,149,0.300) 242px,rgba(4,108,149,0.415) 296px,rgba(4,108,149,0.512) 350px,rgba(4,108,149,0.577) 405px,rgba(4,108,149,0.600) 459px,rgba(4,108,149,0.577) 513px,rgba(4,108,149,0.512) 568px,rgba(4,108,149,0.415) 622px,rgba(4,108,149,0.300) 676px,rgba(4,108,149,0.185) 731px,rgba(4,108,149,0.088) 785px,rgba(4,108,149,0.023) 839px,rgba(4,108,149,0.000) 893px)"></div>
<div class="gl" style="top:440px;height:8px;background:linear-gradient(to right,rgba(4,110,151,0.000) 22px,rgba(4,110,151,0.023) 76px,rgba(4,110,151,0.088) 131px,rgba(4,110,151,0.185) 186px,rgba(4,110,151,0.300) 240px,rgba(4,110,151,0.415) 295px,rgba(4,110,151,0.512) 349px,rgba(4,110,151,0.577) 404px,rgba(4,110,151,0.600) 459px,rgba(4,110,151,0.577) 513px,rgba(4,110,151,0.512) 568px,rgba(4,110,151,0.415) 622px,rgba(4,110,151,0.300) 677px,rgba(4,110,151,0.185) 732px,rgba(4,110,151,0.088) 786px,rgba(4,110,151,0.023) 841px,rgba(4,110,151,0.000) 895px)"></div>
<div class="gl" style="top:448px;height:8px;background:linear-gradient(to right,rgba(4,111,152,0.000) 19px,rgba(4,111,152,0.023) 74px,rgba(4,111,152,0.088) 129px,rgba(4,111,152,0.185) 184px,rgba(4,111,152,0.300) 239px,rgba(4,111,152,0.415) 293px,rgba(4,111,152,0.512) 348px,rgba(4,111,152,0.577) 403px,rgba(4,111,152,0.600) 458px,rgba(4,111,152,0.577) 513px,rgba(4,111,152,0.512) 568px,rgba(4,111,152,0.415) 623px,rgba(4,111,152,0.300) 678px,rgba(4,111,152,0.185) 733px,rgba(4,111,152,0.088) 788px,rgba(4,111,152,0.023) 843px,rgba(4,111,152,0.000) 898px)"></div>
<div class="gl" style="top:456px;height:8px;background:linear-gradient(to right,rgba(4,112,154,0.000) 16px,rgba(4,112,154,0.023) 71px,rgba(4,112,154,0.088) 126px,rgba(4,112,154,0.185) 182px,rgba(4,112,154,0.300) 237px,rgba(4,112,154,0.415) 292px,rgba(4,112,154,0.512) 347px,rgba(4,112,154,0.577) 403px,rgba(4,112,154,0.600) 458px,rgba(4,112,154,0.577) 513px,rgba(4,112,154,0.512) 568px,rgba(4,112,154,0.415) 624px,rgba(4,112,154,0.300) 679px,rgba(4,112,154,0.185) 734px,rgba(4,112,154,0.088) 789px,rgba(4,112,154,0.023) 844px,rgba(4,112,154,0.000) 900px)"></div>
<div class="gl" style="top:464px;height:8px;background:linear-gradient(to right,rgba(4,114,156,0.000) 13px,rgba(4,114,156,0.023) 69px,rgba(4,114,156,0.088) 124px,rgba(4,114,156,0.185) 180px,rgba(4,114,156,0.300) 235px,rgba(4,114,156,0.415) 291px,rgba(4,114,156,0.512) 346px,rgba(4,114,156,0.577) 402px,rgba(4,114,156,0.600) 457px,rgba(4,114,156,0.577) 513px,rgba(4,114,156,0.512) 569px,rgba(4,114,156,0.415) 624px,rgba(4,114,156,0.300) 680px,rgba(4,114,156,0.185) 735px,rgba(4,114,156,0.088) 791px,rgba(4,114,156,0.023) 846px,rgba(4,114,156,0.000) 902px)"></div>
<div class="gl" style="top:472px;height:8px;background:linear-gradient(to right,rgba(4,115,157,0.000) 10px,rgba(4,115,157,0.023) 66px,rgba(4,115,157,0.088) 122px,rgba(4,115,157,0.185) 178px,rgba(4,115,157,0.300) 234px,rgba(4,115,157,0.415) 290px,rgba(4,115,157,0.512) 345px,rgba(4,115,157,0.577) 401px,rgba(4,115,157,0.600) 457px,rgba(4,115,157,0.577) 513px,rgba(4,115,157,0.512) 569px,rgba(4,115,157,0.415) 625px,rgba(4,115,157,0.300) 680px,rgba(4,115,157,0.185) 736px,rgba(4,115,157,0.088) 792px,rgba(4,115,157,0.023) 848px,rgba(4,115,157,0.000) 904px)"></div>
<div class="gl" style="top:480px;height:8px;background:linear-gradient(to right,rgba(4,116,158,0.000) 7px,rgba(4,116,158,0.023) 64px,rgba(4,116,158,0.088) 120px,rgba(4,116,158,0.185) 176px,rgba(4,116,158,0.300) 232px,rgba(4,116,158,0.415) 288px,rgba(4,116,158,0.512) 344px,rgba(4,116,158,0.577) 401px,rgba(4,116,158,0.600) 457px,rgba(4,116,158,0.577) 513px,rgba(4,116,158,0.512) 569px,rgba(4,116,158,0.415) 625px,rgba(4,116,158,0.300) 681px,rgba(4,116,158,0.185) 737px,rgba(4,116,158,0.088) 794px,rgba(4,116,158,0.023) 850px,rgba(4,116,158,0.000) 906px)"></div>
<div class="gl" style="top:488px;height:8px;background:linear-gradient(to right,rgba(4,117,159,0.000) 5px,rgba(4,117,159,0.023) 61px,rgba(4,117,159,0.088) 118px,rgba(4,117,159,0.185) 174px,rgba(4,117,159,0.300) 230px,rgba(4,117,159,0.415) 287px,rgba(4,117,159,0.512) 343px,rgba(4,117,159,0.577) 400px,rgba(4,117,159,0.600) 456px,rgba(4,117,159,0.577) 513px,rgba(4,117,159,0.512) 569px,rgba(4,117,159,0.415) 626px,rgba(4,117,159,0.300) 682px,rgba(4,117,159,0.185) 739px,rgba(4,117,159,0.088) 795px,rgba(4,117,159,0.023) 852px,rgba(4,117,159,0.000) 908px)"></div>
<div class="gl" style="top:496px;height:8px;background:linear-gradient(to right,rgba(4,118,160,0.000) 2px,rgba(4,118,160,0.023) 59px,rgba(4,118,160,0.088) 115px,rgba(4,118,160,0.185) 172px,rgba(4,118,160,0.300) 229px,rgba(4,118,160,0.415) 286px,rgba(4,118,160,0.512) 342px,rgba(4,118,160,0.577) 399px,rgba(4,118,160,0.600) 456px,rgba(4,118,160,0.577) 513px,rgba(4,118,160,0.512) 569px,rgba(4,118,160,0.415) 626px,rgba(4,118,160,0.300) 683px,rgba(4,118,160,0.185) 740px,rgba(4,118,160,0.088) 797px,rgba(4,118,160,0.023) 853px,rgba(4,118,160,0.000) 910px)"></div>
<div class="gl" style="top:504px;height:8px;background:linear-gradient(to right,rgba(4,118,161,0.000) -1px,rgba(4,118,161,0.023) 56px,rgba(4,118,161,0.088) 113px,rgba(4,118,161,0.185) 170px,rgba(4,118,161,0.300) 227px,rgba(4,118,161,0.415) 284px,rgba(4,118,161,0.512) 341px,rgba(4,118,161,0.577) 398px,rgba(4,118,161,0.600) 456px,rgba(4,118,161,0.577) 513px,rgba(4,118,161,0.512) 570px,rgba(4,118,161,0.415) 627px,rgba(4,118,161,0.300) 684px,rgba(4,118,161,0.185) 741px,rgba(4,118,161,0.088) 798px,rgba(4,118,161,0.023) 855px,rgba(4,118,161,0.000) 912px)"></div>
<div class="gl" style="top:512px;height:7px;background:linear-gradient(to right,rgba(4,119,161,0.000) -4px,rgba(4,119,161,0.023) 54px,rgba(4,119,161,0.088) 111px,rgba(4,119,161,0.185) 168px,rgba(4,119,161,0.300) 226px,rgba(4,119,161,0.415) 283px,rgba(4,119,161,0.512) 340px,rgba(4,119,161,0.577) 398px,rgba(4,119,161,0.600) 455px,rgba(4,119,161,0.577) 513px,rgba(4,119,161,0.512) 570px,rgba(4,119,161,0.415) 627px,rgba(4,119,161,0.300) 685px,rgba(4,119,161,0.185) 742px,rgba(4,119,161,0.088) 799px,rgba(4,119,161,0.023) 857px,rgba(4,119,161,0.000) 914px)"></div>
<div class="rdark"></div>
<div class="edge"></div><div class="edge2"></div>
<h1 class="t">Вартість 1-кімнатної квартири, вторинний ринок</h1>
<div class="t sub">Порівняння середньої вартості у травні 2025 до травня 2024</div>
<div class="logo"><div class="o">dim</div><div class="b"><svg width="34" height="25" viewBox="0 0 34 25">
<g transform="rotate(-17 17 14)"><text x="16.8" y="19.6" text-anchor="middle" font-family="Liberation Serif" font-weight="bold" font-size="13" fill="#fff" stroke="#fff" stroke-width="0.55" letter-spacing="0.4">RIA</text></g>
<polygon points="15.5,2.6 17.1,6.0 20.9,6.3 18.0,8.6 19.0,12.2 15.7,10.3 12.5,12.2 13.4,8.6 10.5,6.3 14.2,6.0" fill="#fff" transform="translate(-1.7,0.7) rotate(-20 15.7 7.5) scale(1.08 0.78) translate(1.2 1.6)"/>
<text x="31" y="23" text-anchor="end" font-family="Liberation Sans" font-size="3.2" fill="#d8e4f0">.com</text>
</svg></div></div>
<div class="legend"></div>
<div class="li" style="left:175px;background:#f39c1e"><svg width="15" height="15" viewBox="0 0 15 15"><path d="M5.2 5.2H9.9V9.9M9.7 5.4L5.1 10" fill="none" stroke="#1a0800" stroke-width="2"/></svg></div>
<div class="t lt" style="left:196.3px">Ціна збільшилася</div>
<div class="li" style="left:308px;background:#9fcff4"><svg width="15" height="15" viewBox="0 0 15 15"><path d="M5.1 9.8H9.8V5.1M5.3 5.3L9.6 9.6" fill="none" stroke="#0c0c20" stroke-width="2"/></svg></div>
<div class="t lt" style="left:329.3px">Ціна зменшилася</div>
<div class="li" style="left:440.3px;background:#fff"><svg width="15" height="15" viewBox="0 0 15 15"><rect x="6.0" y="4.5" width="1.5" height="6.4" fill="#111"/><rect x="8.6" y="4.5" width="1.4" height="6.4" fill="#111"/></svg></div>
<div class="t lt" style="left:461.2px">Ціна не змінилася</div>
<div class="li" style="left:576px;background:#000"><svg width="15" height="15" viewBox="0 0 15 15"><rect x="3.9" y="7.1" width="7.1" height="2.1" fill="#fff"/></svg></div>
<div class="t lt" style="left:597.2px;letter-spacing:0.25px">Недостатньо даних для порівняння</div>
<div class="bar" style="left:43.40px;top:112.90px;height:227.10px;background:linear-gradient(to bottom,rgba(243,148,22,1) 0.0%,rgba(243,148,22,1) 33.0%,rgba(243,148,22,0.87) 43.0%,rgba(243,148,22,0.69) 55.0%,rgba(243,148,22,0.51) 68.0%,rgba(243,148,22,0.33) 80.0%,rgba(243,148,22,0.18) 90.0%,rgba(243,148,22,0.05) 100.0%)"></div>
<div class="cap" style="left:43.40px;top:112.90px;background:rgb(243,148,22)"><svg width="10" height="10" viewBox="0 0 10 10"><path d="M0.9 1.2H8.8V9.1M8.6 1.4L0.9 9.1" fill="none" stroke="#120804" stroke-width="2.1"/></svg></div>
<div class="pct" style="left:26.85px;top:96.50px;color:#f2a43a">3%</div>
<div class="price" style="left:57.15px;top:335.2px">$ 92 382</div>
<div class="city" style="left:50.20px;top:410.1px">м. Київ</div>
<div class="bar" style="left:82.44px;top:159.40px;height:180.60px;background:linear-gradient(to bottom,rgba(243,148,22,1) 0.0%,rgba(243,148,22,1) 33.0%,rgba(243,148,22,0.87) 43.0%,rgba(243,148,22,0.69) 55.0%,rgba(243,148,22,0.51) 68.0%,rgba(243,148,22,0.33) 80.0%,rgba(243,148,22,0.18) 90.0%,rgba(243,148,22,0.05) 100.0%)"></div>
<div class="cap" style="left:82.44px;top:159.40px;background:rgb(243,148,22)"><svg width="10" height="10" viewBox="0 0 10 10"><path d="M0.9 1.2H8.8V9.1M8.6 1.4L0.9 9.1" fill="none" stroke="#120804" stroke-width="2.1"/></svg></div>
<div class="pct" style="left:65.89px;top:143.50px;color:#f2a43a">7%</div>
<div class="price" style="left:96.19px;top:335.2px">$ 74 250</div>
<div class="city" style="left:89.64px;top:410.1px">Львівська</div>
<div class="bar" style="left:121.48px;top:170.90px;height:169.10px;background:linear-gradient(to bottom,rgba(243,148,22,1) 0.0%,rgba(243,148,22,1) 33.0%,rgba(243,148,22,0.87) 43.0%,rgba(243,148,22,0.69) 55.0%,rgba(243,148,22,0.51) 68.0%,rgba(243,148,22,0.33) 80.0%,rgba(243,148,22,0.18) 90.0%,rgba(243,148,22,0.05) 100.0%)"></div>
<div class="cap" style="left:121.48px;top:170.90px;background:rgb(243,148,22)"><svg width="10" height="10" viewBox="0 0 10 10"><path d="M0.9 1.2H8.8V9.1M8.6 1.4L0.9 9.1" fill="none" stroke="#120804" stroke-width="2.1"/></svg></div>
<div class="pct" style="left:104.93px;top:154.70px;color:#f2a43a">21%</div>
<div class="price" style="left:135.23px;top:335.2px">$ 68 063</div>
<div class="city" style="left:126.08px;top:410.1px">Закарпатська</div>
<div class="bar" style="left:160.52px;top:197.50px;height:142.50px;background:linear-gradient(to bottom,rgba(243,148,22,1) 0.0%,rgba(243,148,22,1) 33.0%,rgba(243,148,22,0.87) 43.0%,rgba(243,148,22,0.69) 55.0%,rgba(243,148,22,0.51) 68.0%,rgba(243,148,22,0.33) 80.0%,rgba(243,148,22,0.18) 90.0%,rgba(243,148,22,0.05) 100.0%)"></div>
<div class="cap" style="left:160.52px;top:197.50px;background:rgb(243,148,22)"><svg width="10" height="10" viewBox="0 0 10 10"><path d="M0.9 1.2H8.8V9.1M8.6 1.4L0.9 9.1" fill="none" stroke="#120804" stroke-width="2.1"/></svg></div>
<div class="pct" style="left:143.97px;top:181.90px;color:#f2a43a">9%</div>
<div class="price" style="left:174.27px;top:335.2px">$ 56 605</div>
<div class="city" style="left:168.42px;top:410.1px">Вінницька</div>
<div class="bar" style="left:199.56px;top:203.80px;height:136.20px;background:linear-gradient(to bottom,rgba(243,148,22,1) 0.0%,rgba(243,148,22,1) 33.0%,rgba(243,148,22,0.87) 43.0%,rgba(243,148,22,0.69) 55.0%,rgba(243,148,22,0.51) 68.0%,rgba(243,148,22,0.33) 80.0%,rgba(243,148,22,0.18) 90.0%,rgba(243,148,22,0.05) 100.0%)"></div>
<div class="cap" style="left:199.56px;top:203.80px;background:rgb(243,148,22)"><svg width="10" height="10" viewBox="0 0 10 10"><path d="M0.9 1.2H8.8V9.1M8.6 1.4L0.9 9.1" fill="none" stroke="#120804" stroke-width="2.1"/></svg></div>
<div class="pct" style="left:183.01px;top:188.00px;color:#f2a43a">11%</div>
<div class="price" style="left:213.31px;top:335.2px">$ 54 915</div>
<div class="city" style="left:205.66px;top:410.1px">Волинська</div>
<div class="bar" style="left:238.60px;top:204.10px;height:135.90px;background:linear-gradient(to bottom,rgba(243,148,22,1) 0.0%,rgba(243,148,22,1) 33.0%,rgba(243,148,22,0.87) 43.0%,rgba(243,148,22,0.69) 55.0%,rgba(243,148,22,0.51) 68.0%,rgba(243,148,22,0.33) 80.0%,rgba(243,148,22,0.18) 90.0%,rgba(243,148,22,0.05) 100.0%)"></div>
<div class="cap" style="left:238.60px;top:204.10px;background:rgb(243,148,22)"><svg width="10" height="10" viewBox="0 0 10 10"><path d="M0.9 1.2H8.8V9.1M8.6 1.4L0.9 9.1" fill="none" stroke="#120804" stroke-width="2.1"/></svg></div>
<div class="pct" style="left:222.05px;top:189.70px;color:#f2a43a">7%</div>
<div class="price" style="left:252.35px;top:335.2px">$ 54 786</div>
<div class="city" style="left:246.30px;top:410.1px">Івано-Франківська</div>
<div class="bar" style="left:277.64px;top:209.90px;height:130.10px;background:linear-gradient(to bottom,rgba(243,148,22,1) 0.0%,rgba(243,148,22,1) 33.0%,rgba(243,148,22,0.87) 43.0%,rgba(243,148,22,0.69) 55.0%,rgba(243,148,22,0.51) 68.0%,rgba(243,148,22,0.33) 80.0%,rgba(243,148,22,0.18) 90.0%,rgba(243,148,22,0.05) 100.0%)"></div>
<div class="cap" style="left:277.64px;top:209.90px;background:rgb(243,148,22)"><svg width="10" height="10" viewBox="0 0 10 10"><path d="M0.9 1.2H8.8V9.1M8.6 1.4L0.9 9.1" fill="none" stroke="#120804" stroke-width="2.1"/></svg></div>
<div class="pct" style="left:261.09px;top:193.50px;color:#f2a43a">27%</div>
<div class="price" style="left:291.39px;top:335.2px">$ 52 254</div>
<div class="city" style="left:284.34px;top:410.1px">Рівненська</div>
<div class="bar" style="left:316.68px;top:210.90px;height:129.10px;background:linear-gradient(to bottom,rgba(243,148,22,1) 0.0%,rgba(243,148,22,1) 33.0%,rgba(243,148,22,0.87) 43.0%,rgba(243,148,22,0.69) 55.0%,rgba(243,148,22,0.51) 68.0%,rgba(243,148,22,0.33) 80.0%,rgba(243,148,22,0.18) 90.0%,rgba(243,148,22,0.05) 100.0%)"></div>
<div class="cap" style="left:316.68px;top:210.90px;background:rgb(243,148,22)"><svg width="10" height="10" viewBox="0 0 10 10"><path d="M0.9 1.2H8.8V9.1M8.6 1.4L0.9 9.1" fill="none" stroke="#120804" stroke-width="2.1"/></svg></div>
<div class="pct" style="left:300.13px;top:195.50px;color:#f2a43a">24%</div>
<div class="price" style="left:330.43px;top:335.2px">$ 52 208</div>
<div class="city" style="left:320.78px;top:410.1px">Житомирська</div>
<div class="bar" style="left:355.72px;top:214.70px;height:125.30px;background:linear-gradient(to bottom,rgba(243,148,22,1) 0.0%,rgba(243,148,22,1) 33.0%,rgba(243,148,22,0.87) 43.0%,rgba(243,148,22,0.69) 55.0%,rgba(243,148,22,0.51) 68.0%,rgba(243,148,22,0.33) 80.0%,rgba(243,148,22,0.18) 90.0%,rgba(243,148,22,0.05) 100.0%)"></div>
<div class="cap" style="left:355.72px;top:214.70px;background:rgb(243,148,22)"><svg width="10" height="10" viewBox="0 0 10 10"><path d="M0.9 1.2H8.8V9.1M8.6 1.4L0.9 9.1" fill="none" stroke="#120804" stroke-width="2.1"/></svg></div>
<div class="pct" style="left:339.17px;top:199.70px;color:#f2a43a">15%</div>
<div class="price" style="left:369.47px;top:335.2px">$ 51 165</div>
<div class="city" style="left:361.42px;top:410.1px">Чернівецька</div>
<div class="bar" style="left:394.76px;top:217.20px;height:122.80px;background:linear-gradient(to bottom,rgba(243,148,22,1) 0.0%,rgba(243,148,22,1) 33.0%,rgba(243,148,22,0.87) 43.0%,rgba(243,148,22,0.69) 55.0%,rgba(243,148,22,0.51) 68.0%,rgba(243,148,22,0.33) 80.0%,rgba(243,148,22,0.18) 90.0%,rgba(243,148,22,0.05) 100.0%)"></div>
<div class="cap" style="left:394.76px;top:217.20px;background:rgb(243,148,22)"><svg width="10" height="10" viewBox="0 0 10 10"><path d="M0.9 1.2H8.8V9.1M8.6 1.4L0.9 9.1" fill="none" stroke="#120804" stroke-width="2.1"/></svg></div>
<div class="pct" style="left:378.21px;top:202.20px;color:#f2a43a">9%</div>
<div class="price" style="left:408.51px;top:335.2px">$ 49 328</div>
<div class="city" style="left:400.86px;top:410.1px">Одеська</div>
<div class="bar" style="left:433.80px;top:224.50px;height:115.50px;background:linear-gradient(to bottom,rgba(243,148,22,1) 0.0%,rgba(243,148,22,1) 33.0%,rgba(243,148,22,0.87) 43.0%,rgba(243,148,22,0.69) 55.0%,rgba(243,148,22,0.51) 68.0%,rgba(243,148,22,0.33) 80.0%,rgba(243,148,22,0.18) 90.0%,rgba(243,148,22,0.05) 100.0%)"></div>
<div class="cap" style="left:433.80px;top:224.50px;background:rgb(243,148,22)"><svg width="10" height="10" viewBox="0 0 10 10"><path d="M0.9 1.2H8.8V9.1M8.6 1.4L0.9 9.1" fill="none" stroke="#120804" stroke-width="2.1"/></svg></div>
<div class="pct" style="left:417.25px;top:209.50px;color:#f2a43a">14%</div>
<div class="price" style="left:447.55px;top:335.2px">$ 46 288</div>
<div class="city" style="left:438.50px;top:410.1px">Тернопільська</div>
<div class="bar" style="left:472.84px;top:226.50px;height:113.50px;background:linear-gradient(to bottom,rgba(243,148,22,1) 0.0%,rgba(243,148,22,1) 33.0%,rgba(243,148,22,0.87) 43.0%,rgba(243,148,22,0.69) 55.0%,rgba(243,148,22,0.51) 68.0%,rgba(243,148,22,0.33) 80.0%,rgba(243,148,22,0.18) 90.0%,rgba(243,148,22,0.05) 100.0%)"></div>
<div class="cap" style="left:472.84px;top:226.50px;background:rgb(243,148,22)"><svg width="10" height="10" viewBox="0 0 10 10"><path d="M0.9 1.2H8.8V9.1M8.6 1.4L0.9 9.1" fill="none" stroke="#120804" stroke-width="2.1"/></svg></div>
<div class="pct" style="left:456.29px;top:211.40px;color:#f2a43a">11%</div>
<div class="price" style="left:486.59px;top:335.2px">$ 46 051</div>
<div class="city" style="left:478.24px;top:410.1px">Черкаська</div>
<div class="bar" style="left:511.88px;top:230.10px;height:109.90px;background:linear-gradient(to bottom,rgba(243,148,22,1) 0.0%,rgba(243,148,22,1) 33.0%,rgba(243,148,22,0.87) 43.0%,rgba(243,148,22,0.69) 55.0%,rgba(243,148,22,0.51) 68.0%,rgba(243,148,22,0.33) 80.0%,rgba(243,148,22,0.18) 90.0%,rgba(243,148,22,0.05) 100.0%)"></div>
<div class="cap" style="left:511.88px;top:230.10px;background:rgb(243,148,22)"><svg width="10" height="10" viewBox="0 0 10 10"><path d="M0.9 1.2H8.8V9.1M8.6 1.4L0.9 9.1" fill="none" stroke="#120804" stroke-width="2.1"/></svg></div>
<div class="pct" style="left:495.33px;top:214.70px;color:#f2a43a">3%</div>
<div class="price" style="left:525.63px;top:335.2px">$ 43 879</div>
<div class="city" style="left:516.28px;top:410.1px">Київська</div>
<div class="bar" style="left:550.92px;top:231.80px;height:108.20px;background:linear-gradient(to bottom,rgba(243,148,22,1) 0.0%,rgba(243,148,22,1) 33.0%,rgba(243,148,22,0.87) 43.0%,rgba(243,148,22,0.69) 55.0%,rgba(243,148,22,0.51) 68.0%,rgba(243,148,22,0.33) 80.0%,rgba(243,148,22,0.18) 90.0%,rgba(243,148,22,0.05) 100.0%)"></div>
<div class="cap" style="left:550.92px;top:231.80px;background:rgb(243,148,22)"><svg width="10" height="10" viewBox="0 0 10 10"><path d="M0.9 1.2H8.8V9.1M8.6 1.4L0.9 9.1" fill="none" stroke="#120804" stroke-width="2.1"/></svg></div>
<div class="pct" style="left:534.37px;top:217.60px;color:#f2a43a">8%</div>
<div class="price" style="left:564.67px;top:335.2px">$ 43 575</div>
<div class="city" style="left:556.12px;top:410.1px">Дніпропетровська</div>
<div class="bar" style="left:589.96px;top:236.30px;height:103.70px;background:linear-gradient(to bottom,rgba(243,148,22,1) 0.0%,rgba(243,148,22,1) 33.0%,rgba(243,148,22,0.87) 43.0%,rgba(243,148,22,0.69) 55.0%,rgba(243,148,22,0.51) 68.0%,rgba(243,148,22,0.33) 80.0%,rgba(243,148,22,0.18) 90.0%,rgba(243,148,22,0.05) 100.0%)"></div>
<div class="cap" style="left:589.96px;top:236.30px;background:rgb(243,148,22)"><svg width="10" height="10" viewBox="0 0 10 10"><path d="M0.9 1.2H8.8V9.1M8.6 1.4L0.9 9.1" fill="none" stroke="#120804" stroke-width="2.1"/></svg></div>
<div class="pct" style="left:573.41px;top:221.00px;color:#f2a43a">8%</div>
<div class="price" style="left:603.71px;top:335.2px">$ 41 145</div>
<div class="city" style="left:595.86px;top:410.1px">Хмельницька</div>
<div class="bar" style="left:629.00px;top:242.60px;height:97.40px;background:linear-gradient(to bottom,rgba(243,148,22,1) 0.0%,rgba(243,148,22,1) 33.0%,rgba(243,148,22,0.87) 43.0%,rgba(243,148,22,0.69) 55.0%,rgba(243,148,22,0.51) 68.0%,rgba(243,148,22,0.33) 80.0%,rgba(243,148,22,0.18) 90.0%,rgba(243,148,22,0.05) 100.0%)"></div>
<div class="cap" style="left:629.00px;top:242.60px;background:rgb(243,148,22)"><svg width="10" height="10" viewBox="0 0 10 10"><path d="M0.9 1.2H8.8V9.1M8.6 1.4L0.9 9.1" fill="none" stroke="#120804" stroke-width="2.1"/></svg></div>
<div class="pct" style="left:612.45px;top:226.60px;color:#f2a43a">13%</div>
<div class="price" style="left:642.75px;top:335.2px">$ 38 898</div>
<div class="city" style="left:635.70px;top:410.1px">Чернігівська</div>
<div class="bar" style="left:668.04px;top:246.00px;height:94.00px;background:linear-gradient(to bottom,rgba(141,196,244,1) 0.0%,rgba(141,196,244,1) 33.0%,rgba(141,196,244,0.87) 43.0%,rgba(141,196,244,0.69) 55.0%,rgba(141,196,244,0.51) 68.0%,rgba(141,196,244,0.33) 80.0%,rgba(141,196,244,0.18) 90.0%,rgba(141,196,244,0.05) 100.0%)"></div>
<div class="cap" style="left:668.04px;top:246.00px;background:rgb(141,196,244)"><svg width="10" height="10" viewBox="0 0 10 10"><path d="M0.9 8.8H8.8V0.9M1.1 1.1L8.6 8.6" fill="none" stroke="#0a0f1a" stroke-width="2.1"/></svg></div>
<div class="pct" style="left:651.49px;top:231.50px;color:#97c5ee">-3%</div>
<div class="price" style="left:681.79px;top:335.2px">$ 37 424</div>
<div class="city" style="left:673.84px;top:410.1px">Полтавська</div>
<div class="bar" style="left:707.08px;top:264.50px;height:75.50px;background:linear-gradient(to bottom,rgba(243,148,22,1) 0.0%,rgba(243,148,22,1) 33.0%,rgba(243,148,22,0.87) 43.0%,rgba(243,148,22,0.69) 55.0%,rgba(243,148,22,0.51) 68.0%,rgba(243,148,22,0.33) 80.0%,rgba(243,148,22,0.18) 90.0%,rgba(243,148,22,0.05) 100.0%)"></div>
<div class="cap" style="left:707.08px;top:264.50px;background:rgb(243,148,22)"><svg width="10" height="10" viewBox="0 0 10 10"><path d="M0.9 1.2H8.8V9.1M8.6 1.4L0.9 9.1" fill="none" stroke="#120804" stroke-width="2.1"/></svg></div>
<div class="pct" style="left:690.53px;top:248.80px;color:#f2a43a">5%</div>
<div class="price" style="left:720.83px;top:335.2px">$ 29 732</div>
<div class="city" style="left:712.78px;top:410.1px">Кіровоградська</div>
<div class="bar" style="left:746.12px;top:272.20px;height:67.80px;background:linear-gradient(to bottom,rgba(141,196,244,1) 0.0%,rgba(141,196,244,1) 33.0%,rgba(141,196,244,0.87) 43.0%,rgba(141,196,244,0.69) 55.0%,rgba(141,196,244,0.51) 68.0%,rgba(141,196,244,0.33) 80.0%,rgba(141,196,244,0.18) 90.0%,rgba(141,196,244,0.05) 100.0%)"></div>
<div class="cap" style="left:746.12px;top:272.20px;background:rgb(141,196,244)"><svg width="10" height="10" viewBox="0 0 10 10"><path d="M0.9 8.8H8.8V0.9M1.1 1.1L8.6 8.6" fill="none" stroke="#0a0f1a" stroke-width="2.1"/></svg></div>
<div class="pct" style="left:729.57px;top:256.60px;color:#97c5ee">-6%</div>
<div class="price" style="left:759.87px;top:335.2px">$ 27 094</div>
<div class="city" style="left:752.02px;top:410.1px">Харківська</div>
<div class="bar" style="left:785.16px;top:277.70px;height:62.30px;background:linear-gradient(to bottom,rgba(141,196,244,1) 0.0%,rgba(141,196,244,1) 33.0%,rgba(141,196,244,0.87) 43.0%,rgba(141,196,244,0.69) 55.0%,rgba(141,196,244,0.51) 68.0%,rgba(141,196,244,0.33) 80.0%,rgba(141,196,244,0.18) 90.0%,rgba(141,196,244,0.05) 100.0%)"></div>
<div class="cap" style="left:785.16px;top:277.70px;background:rgb(141,196,244)"><svg width="10" height="10" viewBox="0 0 10 10"><path d="M0.9 8.8H8.8V0.9M1.1 1.1L8.6 8.6" fill="none" stroke="#0a0f1a" stroke-width="2.1"/></svg></div>
<div class="pct" style="left:768.61px;top:264.70px;color:#97c5ee">-6%</div>
<div class="price" style="left:798.91px;top:335.2px">$ 24 468</div>
<div class="city" style="left:791.96px;top:410.1px">Сумська</div>
<div class="bar" style="left:824.20px;top:282.90px;height:57.10px;background:linear-gradient(to bottom,rgba(141,196,244,1) 0.0%,rgba(141,196,244,1) 33.0%,rgba(141,196,244,0.87) 43.0%,rgba(141,196,244,0.69) 55.0%,rgba(141,196,244,0.51) 68.0%,rgba(141,196,244,0.33) 80.0%,rgba(141,196,244,0.18) 90.0%,rgba(141,196,244,0.05) 100.0%)"></div>
<div class="cap" style="left:824.20px;top:282.90px;background:rgb(141,196,244)"><svg width="10" height="10" viewBox="0 0 10 10"><path d="M0.9 8.8H8.8V0.9M1.1 1.1L8.6 8.6" fill="none" stroke="#0a0f1a" stroke-width="2.1"/></svg></div>
<div class="pct" style="left:807.65px;top:269.90px;color:#97c5ee">-3%</div>
<div class="price" style="left:837.95px;top:335.2px">$ 22 288</div>
<div class="city" style="left:830.30px;top:410.1px">Миколаївська</div>
<div class="bar" style="left:863.24px;top:286.90px;height:53.10px;background:linear-gradient(to bottom,rgba(141,196,244,1) 0.0%,rgba(141,196,244,1) 33.0%,rgba(141,196,244,0.87) 43.0%,rgba(141,196,244,0.69) 55.0%,rgba(141,196,244,0.51) 68.0%,rgba(141,196,244,0.33) 80.0%,rgba(141,196,244,0.18) 90.0%,rgba(141,196,244,0.05) 100.0%)"></div>
<div class="cap" style="left:863.24px;top:286.90px;background:rgb(141,196,244)"><svg width="10" height="10" viewBox="0 0 10 10"><path d="M0.9 8.8H8.8V0.9M1.1 1.1L8.6 8.6" fill="none" stroke="#0a0f1a" stroke-width="2.1"/></svg></div>
<div class="pct" style="left:846.69px;top:272.20px;color:#97c5ee">-6%</div>
<div class="price" style="left:876.99px;top:335.2px">$ 20 419</div>
<div class="city" style="left:867.64px;top:410.1px">Запорізька</div>
<div class="bar" style="left:902.28px;top:291.90px;height:48.10px;background:linear-gradient(to bottom,rgba(141,196,244,1) 0.0%,rgba(141,196,244,1) 33.0%,rgba(141,196,244,0.87) 43.0%,rgba(141,196,244,0.69) 55.0%,rgba(141,196,244,0.51) 68.0%,rgba(141,196,244,0.33) 80.0%,rgba(141,196,244,0.18) 90.0%,rgba(141,196,244,0.05) 100.0%)"></div>
<div class="cap" style="left:902.28px;top:291.90px;background:rgb(141,196,244)"><svg width="10" height="10" viewBox="0 0 10 10"><path d="M0.9 8.8H8.8V0.9M1.1 1.1L8.6 8.6" fill="none" stroke="#0a0f1a" stroke-width="2.1"/></svg></div>
<div class="pct" style="left:885.73px;top:277.20px;color:#97c5ee">-6%</div>
<div class="price" style="left:916.03px;top:335.2px">$ 18 808</div>
<div class="city" style="left:911.18px;top:410.1px">Херсонська</div>
<div class="t foot">За даними аналітичного центру DIM.RIA станом на кінець травня 2025 року</div>
</body></html>
